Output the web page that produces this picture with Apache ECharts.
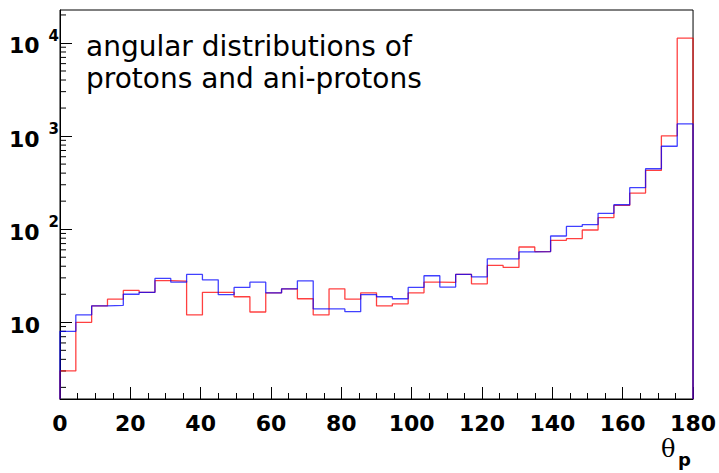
<!DOCTYPE html>
<html>
<head>
<meta charset="utf-8">
<script src="https://cdn.jsdelivr.net/npm/echarts@6/dist/echarts.min.js"></script>
<style>
  html, body { margin: 0; padding: 0; background: #fff; }
  #chart { width: 719px; height: 473px; }
</style>
</head>
<body>
<div id="chart"></div>
<script>
// 40 bins of 4.5 degrees over 0..180
const binWidth = 4.5;
const xMin = 0;
const xMax = 180;
const yMin = 1.5;
const yMax = 22600;

// red histogram (protons)
const protonCounts = [
    3, 10, 15, 17.7, 22, 21, 28, 27.7, 12, 21,
    21, 18.8, 12.9, 20.7, 22.9, 17.9, 12, 22.9, 17.7, 20.7,
    15, 15.8, 20.7, 27, 26.8, 32.7, 25.9, 40.8, 38.8, 64.4,
    57.5, 76, 79.3, 98, 133, 180, 244, 428, 1005, 11250
];
// blue histogram (anti-protons)
const antiProtonCounts = [
    8, 12, 15, 15.2, 20, 21, 29.6, 27, 32.7, 28.6,
    19.8, 23.7, 27, 20.7, 22.9, 27.9, 13.9, 13.9, 13, 19.8,
    18.8, 17.9, 23.7, 31.6, 23.9, 32.7, 30.8, 48, 48, 57,
    57.5, 84.5, 107, 112, 148, 183, 279, 446, 778, 1352
];

const yMinorTicks = [
    2, 3, 4, 5, 6, 7, 8, 9,
    20, 30, 40, 50, 60, 70, 80, 90,
    200, 300, 400, 500, 600, 700, 800, 900,
    2000, 3000, 4000, 5000, 6000, 7000, 8000, 9000,
    20000
];

const noteLines = ['angular distributions of', 'protons and ani-protons'];

// histogram outline: up from the floor, steps, back down at the end
const toSteps = counts => [
    [xMin, yMin],
    ...counts.map((c, i) => [i * binWidth, c]),
    [xMax, counts[counts.length - 1]],
    [xMax, yMin],
];

const chart = echarts.init(document.getElementById('chart'), null, { renderer: 'svg' });

const histLine = (name, color, counts) => ({
    name,
    type: 'line',
    step: 'end',
    showSymbol: false,
    silent: true,
    data: toSteps(counts),
    lineStyle: { color, width: 1.3, opacity: 0.75 },
});

chart.setOption({
    animation: false,
    grid: {
        left: 60,
        right: 25,
        top: 10,
        bottom: 74,
        show: true,
        borderColor: '#000',
        borderWidth: 1,
    },
    title: {
        text: noteLines.join('\n'),
        left: 86,
        top: 30,
        padding: 0,
        textStyle: {
            fontFamily: 'DejaVu Sans',
            fontWeight: 'normal',
            fontSize: 28,
            lineHeight: 32,
            color: '#000',
        },
    },
    xAxis: {
        type: 'value',
        min: xMin,
        max: xMax,
        interval: 20,
        axisLine: { lineStyle: { color: '#000', width: 1 } },
        axisTick: { inside: true, length: 12, lineStyle: { color: '#000' } },
        minorTick: { show: true, splitNumber: 4, length: 6, lineStyle: { color: '#000' } },
        splitLine: { show: false },
        axisLabel: {
            margin: 13,
            fontFamily: 'DejaVu Sans',
            fontWeight: 'bold',
            fontSize: 22,
            color: '#000',
        },
    },
    yAxis: {
        type: 'log',
        logBase: 10,
        min: yMin,
        max: yMax,
        axisLine: { show: true, lineStyle: { color: '#000', width: 1 } },
        axisTick: { inside: true, length: 12, lineStyle: { color: '#000' } },
        splitLine: { show: false },
        axisLabel: {
            showMinLabel: false,
            showMaxLabel: false,
            margin: 1,
            formatter: v => {
                const e = Math.round(Math.log10(v));
                return e === 1 ? '{b|10}{g| }' : '{b|10}{s|' + e + '}';
            },
            rich: {
                b: { fontFamily: 'DejaVu Sans', fontWeight: 'bold', fontSize: 22, color: '#000', padding: [6, 0, 0, 0] },
                s: { fontFamily: 'DejaVu Sans', fontWeight: 'bold', fontSize: 15, color: '#000', padding: [0, 0, 14, 9] },
                g: { width: 19 },
            },
        },
    },
    graphic: [
        {
            type: 'text',
            left: 661,
            top: 437,
            style: { text: 'θ', font: '24px "DejaVu Serif"', fill: '#000' },
        },
        {
            type: 'text',
            left: 678,
            top: 450,
            style: { text: 'p', font: 'bold 18px "DejaVu Sans"', fill: '#000' },
        },
    ],
    series: [
        histLine('protons', '#ff0000', protonCounts),
        histLine('anti-protons', '#0000ff', antiProtonCounts),
        {
            type: 'custom',
            silent: true,
            data: yMinorTicks.map(v => [xMin, v]),
            renderItem: (params, api) => {
                const p = api.coord([api.value(0), api.value(1)]);
                return {
                    type: 'line',
                    shape: { x1: p[0], y1: p[1], x2: p[0] + 6, y2: p[1] },
                    style: { stroke: '#000', lineWidth: 1 },
                };
            },
        },
    ],
});
</script>
</body>
</html>
